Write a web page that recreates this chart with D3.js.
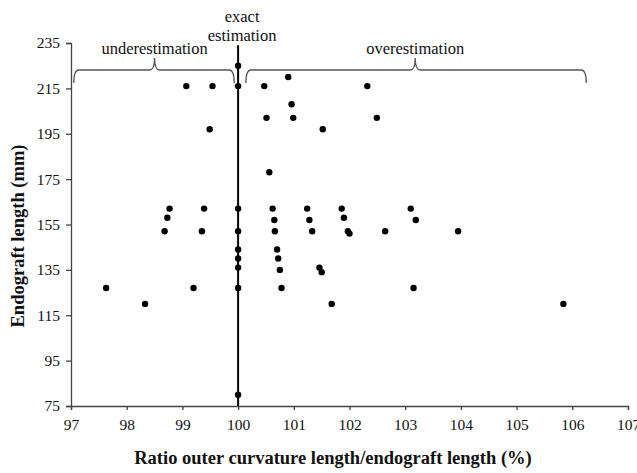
<!DOCTYPE html>
<html lang="en">
<head>
  <meta charset="UTF-8">
  <title>Endograft length vs ratio</title>
  <script src="https://cdn.jsdelivr.net/npm/d3@7"></script>
</head>
<body style="margin:0;background:#fff">
<style>
    svg text {
      font-family: "Liberation Serif", "Times New Roman", Times, serif;
      fill: #111;
    }
    .axis path, .axis line {
      stroke: #444;
      stroke-width: 1.3px;
    }
    .axis text {
      font-size: 15.5px;
    }
    .title {
      font-size: 18.5px;
      font-weight: bold;
    }
    .note {
      font-size: 16.5px;
    }
    .brace {
      fill: none;
      stroke: #555;
      stroke-width: 1.3px;
    }
</style>
<svg width="637" height="473" font-family="Liberation Serif, serif"></svg>

<script>
    // ratio outer curvature length / endograft length (%)
    var ratio = [97.63, 98.33, 98.68, 98.73, 98.77, 99.07, 99.20, 99.35, 99.39, 99.49,
                 99.54, 100, 100, 100, 100, 100, 100, 100, 100, 100,
                 100.47, 100.51, 100.56, 100.62, 100.65, 100.66, 100.70, 100.72, 100.75, 100.78,
                 100.90, 100.96, 100.99, 101.24, 101.28, 101.33, 101.46, 101.50, 101.52, 101.68,
                 101.86, 101.90, 101.97, 102.00, 102.32, 102.49, 102.64, 103.10, 103.19, 103.15,
                 103.95, 105.84];
    // endograft length (mm)
    var length = [127, 120, 152, 158, 162, 216, 127, 152, 162, 197,
                  216, 225, 216, 162, 152, 144, 140, 136, 127, 80,
                  216, 202, 178, 162, 157, 152, 144, 140, 135, 127,
                  220, 208, 202, 162, 157, 152, 136, 134, 197, 120,
                  162, 158, 152, 151, 216, 202, 152, 162, 157, 127,
                  152, 120];

    var xTicks = [97, 98, 99, 100, 101, 102, 103, 104, 105, 106, 107];
    var yTicks = [75, 95, 115, 135, 155, 175, 195, 215, 235];

    // brace annotations: [start, middle, end] in ratio units
    var braces = [
      {label: "underestimation", from: 97.05, mid: 98.5, to: 99.93},
      {label: "overestimation", from: 100.14, mid: 103.18, to: 106.25}
    ];

    var svg = d3.select("svg");
    var margin = {top: 43, right: 9, bottom: 67, left: 71};
    var width = +svg.attr("width"), height = +svg.attr("height");

    var x = d3.scaleLinear().domain([97, 107]).range([margin.left, width - margin.right]);
    var y = d3.scaleLinear().domain([75, 235]).range([height - margin.bottom, margin.top]);

    var points = ratio.map(function(r, i) { return {x: r, y: length[i]}; });

    var xAxis = svg.append("g")
        .attr("class", "axis")
        .attr("transform", "translate(0," + y(75) + ")")
        .call(d3.axisBottom(x).tickValues(xTicks).tickSize(4).tickSizeOuter(4).tickPadding(5));
    xAxis.selectAll("text").attr("dy", "0.95em");

    var yAxis = svg.append("g")
        .attr("class", "axis")
        .attr("transform", "translate(" + x(97) + ",0)")
        .call(d3.axisLeft(y).tickValues(yTicks).tickSize(5).tickSizeOuter(5).tickPadding(6));

    // d3 puts sans-serif on the axis groups, take it off
    svg.selectAll(".axis").attr("font-family", null).attr("font-size", null);
    svg.selectAll(".axis .domain").attr("fill", "none");

    // exact estimation line
    svg.append("line")
        .attr("x1", x(100)).attr("x2", x(100))
        .attr("y1", y(234)).attr("y2", y(75))
        .attr("stroke", "#000")
        .attr("stroke-width", 2);

    svg.append("text").attr("class", "note")
        .attr("x", x(100) + 4).attr("y", 22)
        .attr("text-anchor", "middle").text("exact");
    svg.append("text").attr("class", "note")
        .attr("x", x(100) + 4).attr("y", 41)
        .attr("text-anchor", "middle").text("estimation");

    // curly braces
    var by = 70, drop = 13, tip = 12, r = 5;
    braces.forEach(function(b) {
      var x0 = x(b.from), xm = x(b.mid), x1 = x(b.to);
      var p = d3.path();
      p.moveTo(x0, by + drop);
      p.quadraticCurveTo(x0, by, x0 + r, by);
      p.lineTo(xm - r, by);
      p.quadraticCurveTo(xm, by, xm, by - tip);
      p.quadraticCurveTo(xm, by, xm + r, by);
      p.lineTo(x1 - r, by);
      p.quadraticCurveTo(x1, by, x1, by + drop);
      svg.append("path").attr("class", "brace").attr("d", p.toString());
      svg.append("text").attr("class", "note")
          .attr("x", xm).attr("y", 54)
          .attr("text-anchor", "middle").text(b.label);
    });

    svg.append("g")
      .selectAll("circle")
      .data(points)
      .enter().append("circle")
        .attr("cx", function(d) { return x(d.x); })
        .attr("cy", function(d) { return y(d.y); })
        .attr("r", 3.2)
        .attr("fill", "#000");

    svg.append("text").attr("class", "title")
        .attr("x", 333).attr("y", 464)
        .attr("text-anchor", "middle")
        .text("Ratio outer curvature length/endograft length (%)");

    svg.append("text").attr("class", "title")
        .attr("transform", "translate(24,236) rotate(-90)")
        .attr("text-anchor", "middle")
        .text("Endograft length (mm)");
</script>
</body>
</html>
